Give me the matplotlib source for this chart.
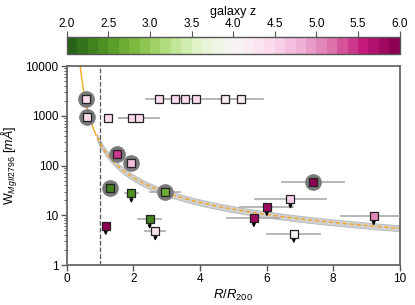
import numpy as np
import matplotlib
matplotlib.use("Agg")
import matplotlib.pyplot as plt
from matplotlib.colors import Normalize
from matplotlib.cm import ScalarMappable

plt.rcParams['font.family'] = ['Liberation Sans', 'DejaVu Sans']
plt.rcParams['mathtext.fontset'] = 'custom'
plt.rcParams['mathtext.rm'] = 'Liberation Sans'
plt.rcParams['mathtext.it'] = 'Liberation Sans:italic'

# detections (R/R200, W [mA], error in R, galaxy z, circled?)
det_R = [0.57, 0.60, 2.77, 3.24, 3.54, 3.89, 4.74, 5.24, 1.24, 1.96, 2.17, 1.51, 1.94, 1.29, 2.94, 7.40]
det_W = [2200, 930, 2200, 2200, 2200, 2200, 2200, 2200, 900, 920, 920, 170, 114, 35, 29, 47]
det_Rerr = [0.0, 0.0, 0.38, 0.3, 0.3, 0.35, 0.5, 0.65, 0.1, 0.4, 0.6, 0.0, 0.0, 0.0, 0.45, 0.93]
det_z = [4.4, 4.4, 4.4, 4.4, 4.4, 4.4, 4.2, 4.2, 4.4, 4.4, 4.4, 5.4, 4.7, 2.3, 2.7, 5.9]
det_circ = [1, 1, 0, 0, 0, 0, 0, 0, 0, 0, 0, 1, 1, 1, 1, 1]

# upper limits
ul_R = [1.94, 1.17, 2.49, 2.66, 6.72, 6.01, 5.62, 9.22, 6.82]
ul_W = [27.6, 6.2, 8.3, 4.8, 21, 14.9, 8.9, 9.7, 4.3]
ul_Rerr = [0.2, 0.0, 0.35, 0.3, 1.08, 0.8, 0.8, 0.97, 0.8]
ul_z = [2.4, 5.9, 2.35, 4.3, 4.6, 5.8, 5.85, 5.0, 4.1]

# model curve parameters: log W = a + b log R + c / R
fit_a, fit_b, fit_c = 1.675, -1.012, 0.775
band_dex = 0.06

cmap = plt.get_cmap('PiYG_r', 32)
norm = Normalize(2.0, 6.0)

fig = plt.figure(figsize=(4.15, 3.05), dpi=100)
ax = fig.add_axes([0.161, 0.131, 0.802, 0.652])
cax = fig.add_axes([0.161, 0.823, 0.802, 0.056])

# model
rr = np.linspace(0.3, 10, 400)
ww = 10 ** (fit_a + fit_b * np.log10(rr) + fit_c / rr)
inner = rr <= 0.9
outer = rr >= 0.9
ax.fill_between(rr[outer], ww[outer] * 10 ** -band_dex, ww[outer] * 10 ** band_dex,
                color='#d0d0d0', edgecolor='#b8b8b8', lw=0.6, zorder=1)
ax.plot(rr[inner], ww[inner], color='#f5a623', lw=1.0, zorder=2)
ax.plot(rr[outer], ww[outer], color='#f5a623', lw=1.0, ls=(0, (3, 2)), zorder=2)

ax.axvline(1.0, color='#555555', ls='--', lw=0.9, zorder=1)

# detections
for r, w, e, z, c in zip(det_R, det_W, det_Rerr, det_z, det_circ):
    if e > 0:
        ax.plot([r - e, r + e], [w, w], color='#aaaaaa', lw=1.2, zorder=3)
    if c:
        ax.plot(r, w, 'o', ms=11, color='#7a7a7a', zorder=4)
    ax.plot(r, w, 's', ms=5.8, mfc=cmap(norm(z)), mec='#222222', mew=0.9, zorder=5)

# upper limits
for r, w, e, z in zip(ul_R, ul_W, ul_Rerr, ul_z):
    if e > 0:
        ax.plot([r - e, r + e], [w, w], color='#aaaaaa', lw=1.2, zorder=3)
    ax.annotate('', xy=(r, w), xycoords='data', xytext=(0, -9), textcoords='offset points',
                arrowprops=dict(arrowstyle='<|-', color='black', lw=0.9,
                                mutation_scale=5), zorder=4)
    ax.plot(r, w, 's', ms=5.8, mfc=cmap(norm(z)), mec='#222222', mew=0.9, zorder=5)

ax.set_yscale('log')
ax.set_xlim(0, 10)
ax.set_ylim(1, 10000)
ax.set_xticks([0, 2, 4, 6, 8, 10])
ax.set_yticks([1, 10, 100, 1000, 10000])
ax.set_yticklabels(['1', '10', '100', '1000', '10000'])
ax.tick_params(axis='both', which='both', direction='out', colors='#555555',
               labelcolor='black', labelsize=8.5, pad=2)
ax.tick_params(axis='both', which='major', length=4, width=1.0)
ax.tick_params(axis='y', which='minor', length=2, width=0.7)
for s in ax.spines.values():
    s.set_color('#666666')
    s.set_linewidth(1.3)
ax.set_xlabel(r'$R/R_{200}$', fontsize=9.5, labelpad=2)
ax.set_ylabel(r'W$_{MgII2796}$ [$m\AA$]', fontsize=9, labelpad=4)

# colorbar
sm = ScalarMappable(norm=norm, cmap=cmap)
cb = fig.colorbar(sm, cax=cax, orientation='horizontal')
cb.set_ticks([2.0, 2.5, 3.0, 3.5, 4.0, 4.5, 5.0, 5.5, 6.0])
cb.ax.xaxis.set_ticks_position('top')
cb.ax.tick_params(direction='out', length=4, colors='#555555', labelcolor='black', labelsize=8.5, pad=1)
cb.outline.set_edgecolor('#555555')
cb.outline.set_linewidth(1.0)
fig.text(0.5625, 1 - 12.5 / 305, 'galaxy z', fontsize=9, ha='center', va='center')

fig.savefig('out.png', dpi=100)
